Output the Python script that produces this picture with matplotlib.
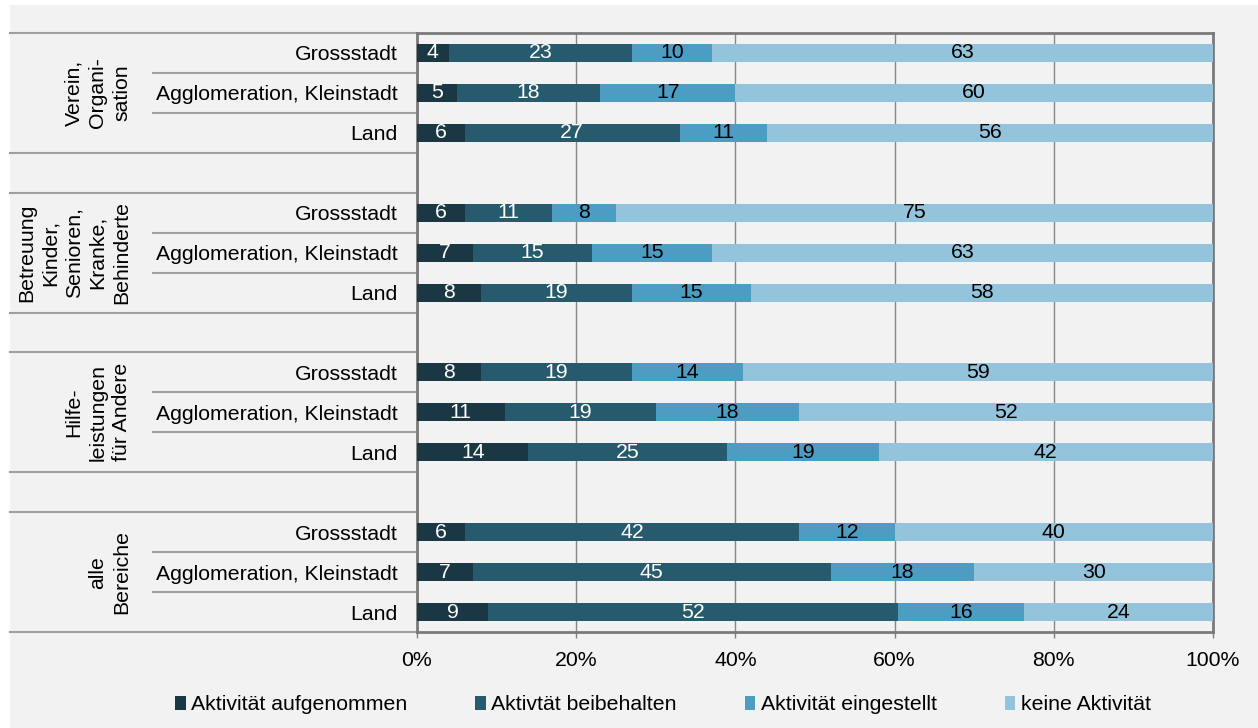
import matplotlib
matplotlib.use("Agg")
import matplotlib.pyplot as plt
from matplotlib.patches import Rectangle, Patch
import numpy as np

FS = 15.3
plt.rcParams["font.family"] = ["Liberation Sans", "DejaVu Sans"]
plt.rcParams["font.size"] = FS

groups = ["Verein,\nOrgani-\nsation",
          "Betreuung\nKinder,\nSenioren,\nKranke,\nBehinderte",
          "Hilfe-\nleistungen\nfür Andere",
          "alle\nBereiche"]
places = ["Grossstadt", "Agglomeration, Kleinstadt", "Land"]
series = ["Aktivität aufgenommen", "Aktivtät beibehalten",
          "Aktivität eingestellt", "keine Aktivität"]

aufgenommen = [4, 5, 6, 6, 7, 8, 8, 11, 14, 6, 7, 9]
beibehalten = [23, 18, 27, 11, 15, 19, 19, 19, 25, 42, 45, 52]
eingestellt = [10, 17, 11, 8, 15, 15, 14, 18, 19, 12, 18, 16]
keine = [63, 60, 56, 75, 63, 58, 59, 52, 42, 40, 30, 24]

colors = ["#1b3744", "#285a6d", "#4d9dc3", "#94c4db"]
text_colors = ["white", "white", "black", "black"]
bg = "#f2f2f2"

W, H = 1258, 728
fig = plt.figure(figsize=(W / 100, H / 100), dpi=100, facecolor="white")
fig.patches.append(Rectangle((10 / W, 0), 1 - 10 / W, 1 - 5 / H,
                             transform=fig.transFigure, facecolor=bg,
                             edgecolor="none", zorder=-10))

ax = fig.add_axes([417 / W, 1 - 632 / H, 796 / W, 599 / H])
ax.set_facecolor(bg)

# row positions: three places per group, one empty row between groups
ypos = [g * 4 + j + 0.5 for g in range(len(groups)) for j in range(len(places))]
data = np.array([aufgenommen, beibehalten, eingestellt, keine], dtype=float)
shares = data / data.sum(axis=0)

left = np.zeros(len(ypos))
for k in range(len(series)):
    ax.barh(ypos, shares[k], left=left, height=0.45, color=colors[k],
            label=series[k], zorder=3)
    for y, l, w, v in zip(ypos, left, shares[k], data[k]):
        ax.text(l + w / 2, y, f"{int(v)}", ha="center", va="center",
                color=text_colors[k], fontsize=FS, zorder=4)
    left += shares[k]

ax.set_xlim(0, 1)
ax.set_ylim(15, 0)
ax.set_xticks(np.linspace(0, 1, 6))
ax.set_xticklabels([f"{int(t)}%" for t in np.linspace(0, 100, 6)])
ax.set_yticks(ypos)
ax.set_yticklabels(places * len(groups))
ax.tick_params(axis="y", length=0, pad=14)
ax.tick_params(axis="x", length=4, width=1, color="#808080", pad=10)
ax.xaxis.grid(True, color="#878787", linewidth=1, zorder=0)
ax.set_axisbelow(True)
for side in ["left", "right", "top", "bottom"]:
    ax.spines[side].set_color("#7a7a7a")
    ax.spines[side].set_linewidth(2)

# category separators on the left side
ytr = ax.get_yaxis_transform()
x_full = (10 - 417) / 796
x_short = (153 - 417) / 796
for g in range(len(groups)):
    top = g * 4
    ax.plot([x_full, 0], [top, top], transform=ytr, color="#a0a0a0",
            lw=1.5, clip_on=False)
    ax.plot([x_full, 0], [top + 3, top + 3], transform=ytr, color="#a0a0a0",
            lw=1.5, clip_on=False)
    for j in (1, 2):
        ax.plot([x_short, 0], [top + j, top + j], transform=ytr,
                color="#a0a0a0", lw=1.5, clip_on=False)
    ax.text((131 - 417) / 796, top + 1.5, groups[g], transform=ytr,
            rotation=90, ha="right", va="center", multialignment="center",
            fontsize=FS, linespacing=1.32)

handles = [Patch(facecolor=c, edgecolor="none") for c in colors]
fig.legend(handles, series, loc="center", ncol=4,
           bbox_to_anchor=(663 / W, 1 - 705 / H), frameon=False,
           handlelength=0.5, handleheight=0.6, handletextpad=0.25,
           columnspacing=3.2, fontsize=FS)

fig.savefig("out.png", dpi=100, facecolor=fig.get_facecolor())
